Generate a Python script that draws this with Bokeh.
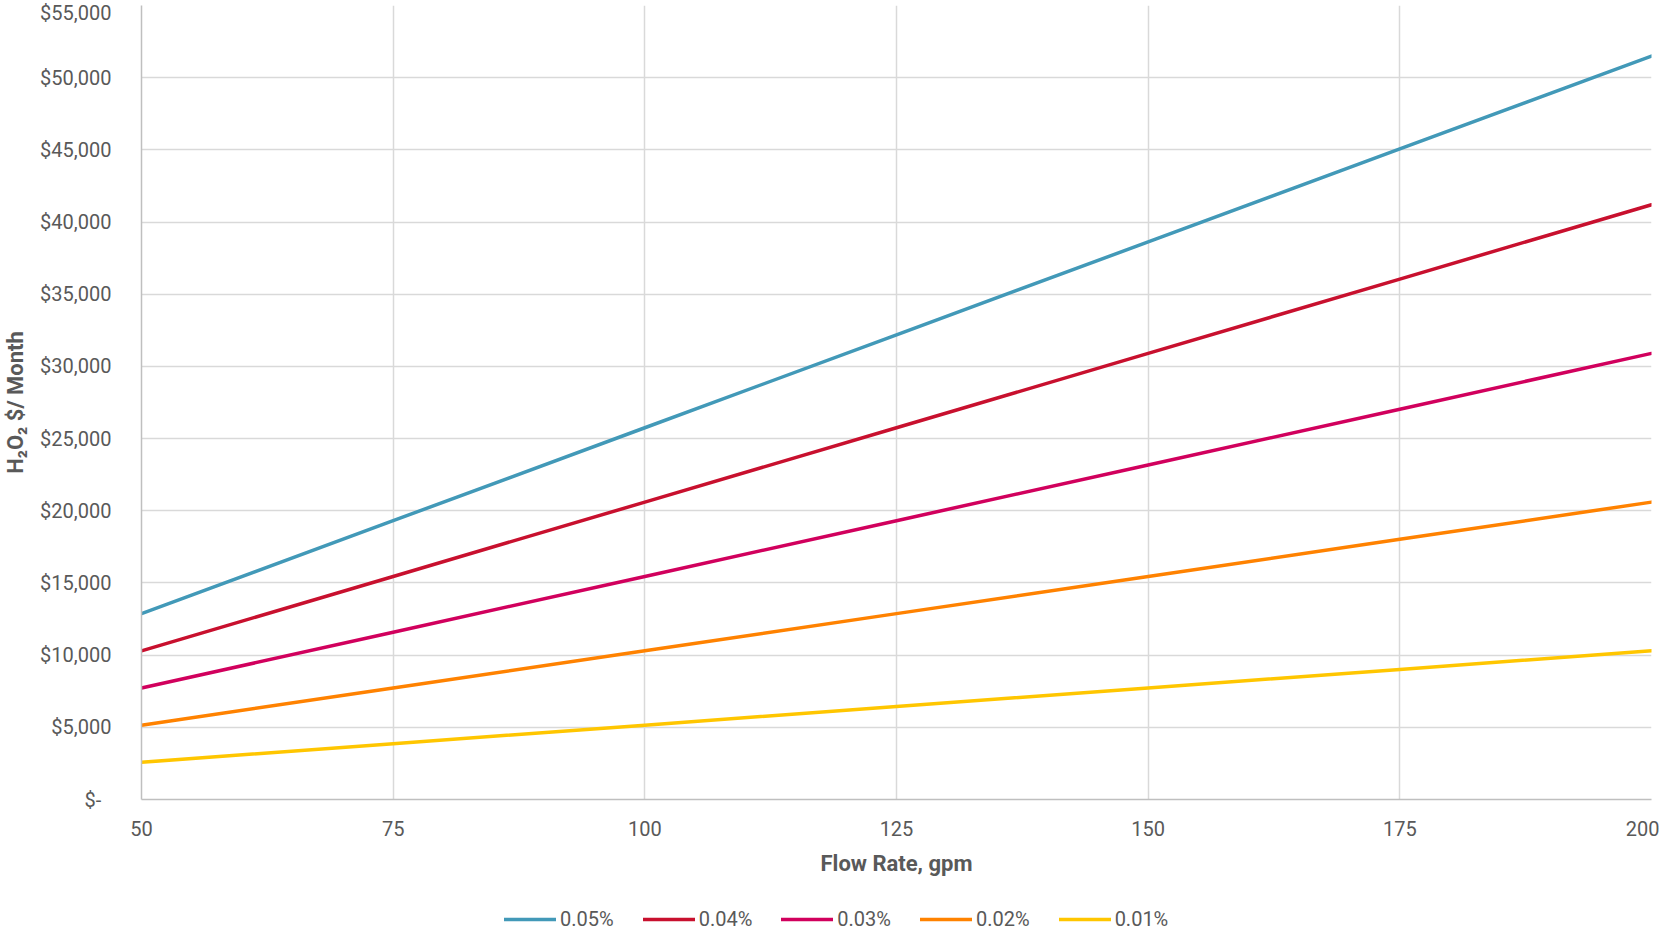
from bokeh.plotting import figure
from bokeh.layouts import column
from bokeh.models import (Range1d, SingleIntervalTicker, CustomJSTickFormatter, Legend, LegendItem)
from bokeh.embed import file_html
from bokeh.resources import INLINE

flow = [50, 75, 100, 125, 150, 175, 200]
series_names = ["0.05%", "0.04%", "0.03%", "0.02%", "0.01%"]
c005 = [12875, 19313, 25750, 32188, 38625, 45063, 51500]
c004 = [10300, 15450, 20600, 25750, 30900, 36050, 41200]
c003 = [7725, 11588, 15450, 19313, 23175, 27038, 30900]
c002 = [5150, 7725, 10300, 12875, 15450, 18025, 20600]
c001 = [2575, 3863, 5150, 6438, 7725, 9013, 10300]
series_values = [c005, c004, c003, c002, c001]
colors = ["#4299B8", "#C8102E", "#D1005D", "#FF8200", "#FFC600"]

FONT = "Roboto"
TXT = "#595959"
W = 1659
H_MAIN = 899
H_LEG = 931 - H_MAIN

p = figure(width=W, height=H_MAIN, output_backend="svg", toolbar_location=None,
           x_range=Range1d(50, 200), y_range=Range1d(0, 55000),
           min_border_left=132, min_border_right=8, min_border_top=5, min_border_bottom=100)
p.outline_line_color = None

for name, vals, col in zip(series_names, series_values, colors):
    p.line(flow, vals, line_color=col, line_width=3.5, line_cap="round")

p.xaxis.ticker = SingleIntervalTicker(interval=25)
p.yaxis.ticker = SingleIntervalTicker(interval=5000)
p.yaxis.formatter = CustomJSTickFormatter(code="""
if (tick == 0) { return "$-\u2002"; }
return "$" + tick.toLocaleString("en-US");
""")

for ax in (p.xaxis[0], p.yaxis[0]):
    ax.axis_line_color = "#BFBFBF"
    ax.axis_line_width = 1.5
    ax.major_tick_line_color = None
    ax.minor_tick_line_color = None
    ax.major_tick_out = 0
    ax.major_tick_in = 0
    ax.major_label_text_font = FONT
    ax.major_label_text_font_size = "20px"
    ax.major_label_text_color = TXT
    ax.axis_label_text_font = FONT
    ax.axis_label_text_font_size = "22px"
    ax.axis_label_text_font_style = "bold"
    ax.axis_label_text_color = TXT

p.xaxis.axis_label = "Flow Rate, gpm"
p.yaxis.axis_label = "H\u2082O\u2082 $/ Month"
p.xaxis.major_label_standoff = 17
p.xaxis.axis_label_standoff = 12
p.yaxis.major_label_standoff = 26
p.yaxis.axis_label_standoff = 9

p.xgrid.grid_line_color = "#D9D9D9"
p.ygrid.grid_line_color = "#D9D9D9"
p.xgrid.grid_line_width = 1.5
p.ygrid.grid_line_width = 1.5

# legend strip below the chart (its lines lie outside its empty frame)
lg = figure(width=W, height=H_LEG, output_backend="svg", toolbar_location=None,
            x_axis_type=None, y_axis_type=None, min_border=0,
            x_range=Range1d(0, 1), y_range=Range1d(0, 1))
lg.outline_line_color = None
lg.xgrid.visible = False
lg.ygrid.visible = False
items = []
for name, vals, col in zip(series_names, series_values, colors):
    r = lg.line(flow, vals, line_color=col, line_width=3.5, line_cap="round")
    items.append(LegendItem(label=name, renderers=[r]))

legend = Legend(items=items, orientation="horizontal", location=(363, 0))
legend.label_text_font = FONT
legend.label_text_font_size = "20px"
legend.label_text_color = TXT
legend.glyph_width = 52
legend.glyph_height = 20
legend.label_standoff = 4
legend.spacing = 29
legend.padding = 0
legend.margin = 0
legend.border_line_color = None
legend.background_fill_alpha = 0
lg.add_layout(legend, "center")

layout = column(p, lg, spacing=0)
open("out.html", "w").write(file_html(layout, INLINE))
